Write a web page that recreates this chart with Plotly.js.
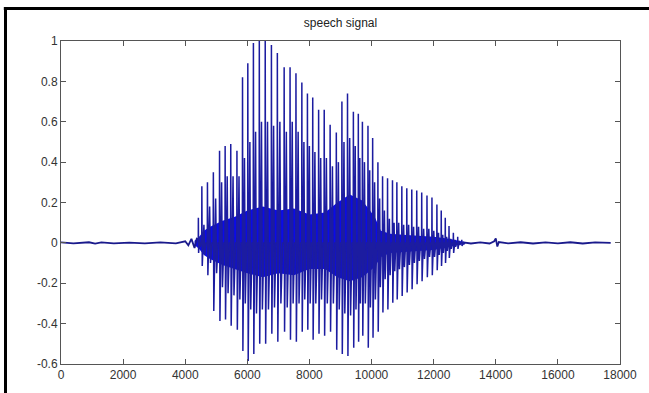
<!DOCTYPE html>
<html>
<head>
<meta charset="utf-8">
<script src="https://cdn.plot.ly/plotly-3.0.1.min.js"></script>
<style>
  html, body { margin: 0; padding: 0; background: #fff; overflow: hidden; }
  #chart { width: 649px; height: 393px; }
</style>
</head>
<body>
<div id="chart"></div>
<script>
// Pitch pulses (sample index) and their peak amplitudes
const pulseX = [4420, 4530, 4710, 4900, 5100, 5280, 5460, 5660, 5840, 6010, 6190, 6380, 6570, 6770,
  6960, 7180, 7370, 7560, 7750, 7930, 8100, 8290, 8470, 8660, 8860, 9040, 9220, 9410, 9570, 9700,
  9880, 10030, 10200, 10350, 10510, 10670, 10810, 10970, 11130, 11290, 11450, 11610, 11780, 11940,
  12100, 12240, 12370, 12490, 12630, 12770, 12900];
const pulseHi = [0.125, 0.28, 0.30, 0.35, 0.456, 0.48, 0.49, 0.456, 0.82, 0.89, 0.99, 1.0, 1.0, 0.98,
  0.94, 0.87, 0.87, 0.84, 0.795, 0.74, 0.72, 0.66, 0.66, 0.585, 0.547, 0.70, 0.74, 0.65, 0.64, 0.60,
  0.58, 0.52, 0.40, 0.33, 0.32, 0.31, 0.30, 0.28, 0.27, 0.265, 0.26, 0.25, 0.235, 0.225,
  0.19, 0.16, 0.125, 0.084, 0.05, 0.03, 0.015];
const pulseLo = [-0.05, -0.114, -0.16, -0.337, -0.387, -0.38, -0.41, -0.43, -0.535, -0.585, -0.55, -0.5, -0.5, -0.45,
  -0.49, -0.44, -0.48, -0.49, -0.44, -0.43, -0.48, -0.45, -0.46, -0.44, -0.53, -0.55, -0.56, -0.52, -0.49, -0.46,
  -0.52, -0.47, -0.44, -0.345, -0.33, -0.296, -0.28, -0.263, -0.246, -0.23, -0.205, -0.19, -0.17, -0.16,
  -0.135, -0.114, -0.1, -0.075, -0.05, -0.03, -0.015];
const pulseHi2 = [0.03, 0.09, 0.18, 0.22, 0.30, 0.33, 0.33, 0.33, 0.42, 0.50, 0.55, 0.60, 0.60, 0.58,
  0.60, 0.55, 0.60, 0.55, 0.50, 0.48, 0.45, 0.42, 0.42, 0.38, 0.40, 0.50, 0.52, 0.48, 0.42, 0.40,
  0.36, 0.30, 0.22, 0.16, 0.12, 0.10, 0.10, 0.09, 0.09, 0.08, 0.08, 0.07, 0.07, 0.06,
  0.05, 0.04, 0.03, 0.02, 0.015, 0.01, 0.005];
const pulseLo2 = [-0.02, -0.06, -0.10, -0.15, -0.22, -0.25, -0.26, -0.28, -0.30, -0.33, -0.35, -0.33, -0.33, -0.32,
  -0.30, -0.32, -0.30, -0.30, -0.28, -0.30, -0.30, -0.28, -0.30, -0.30, -0.33, -0.35, -0.36, -0.33, -0.30, -0.30,
  -0.32, -0.28, -0.22, -0.18, -0.16, -0.14, -0.13, -0.12, -0.11, -0.10, -0.09, -0.08, -0.07, -0.07,
  -0.06, -0.05, -0.04, -0.03, -0.02, -0.01, -0.005];

// Dense high-frequency core of the voiced part
const bandX  = [4300, 4450, 4600, 4800, 5200, 5600, 6000, 6500, 7000, 7500, 8000, 8500, 8900, 9300, 9700, 10100, 10300, 10600, 11000, 11500, 12000, 12500, 12800, 13000];
const bandHi = [0.01, 0.03, 0.06, 0.08, 0.11, 0.13, 0.16, 0.18, 0.16, 0.17, 0.14, 0.15, 0.20, 0.24, 0.21, 0.13, 0.06, 0.045, 0.04, 0.035, 0.03, 0.02, 0.01, 0.004];
const bandLo = [-0.01, -0.03, -0.06, -0.08, -0.11, -0.13, -0.15, -0.17, -0.15, -0.16, -0.13, -0.13, -0.17, -0.19, -0.17, -0.12, -0.07, -0.05, -0.045, -0.04, -0.035, -0.02, -0.01, -0.004];

// Silent parts (low-level noise)
const leadX = [0, 400, 900, 1100, 1300, 1700, 2200, 2700, 3200, 3700, 4000, 4100, 4200, 4300, 4380];
const leadY = [0.002, -0.002, 0.003, -0.004, 0.002, -0.002, 0.001, -0.002, 0.002, -0.002, 0.008, -0.012, 0.02, -0.025, 0.025];
const tailX = [12950, 13200, 13500, 13800, 13950, 14000, 14050, 14100, 14400, 14800, 15200, 15600, 16000, 16400, 16800, 17200, 17700];
const tailY = [0.003, -0.003, 0.002, -0.003, 0.008, 0.022, -0.018, 0.004, -0.002, 0.003, -0.003, 0.002, -0.002, 0.003, -0.003, 0.002, 0.0];

const xTicks = [0, 2000, 4000, 6000, 8000, 10000, 12000, 14000, 16000, 18000];
const yTicks = [-0.6, -0.4, -0.2, 0, 0.2, 0.4, 0.6, 0.8, 1];

// Build the voiced waveform path from the pulse readings
const sx = [], sy = [];
for (let i = 0; i < pulseX.length; i++) {
  const x0 = pulseX[i];
  const T = i < pulseX.length - 1 ? pulseX[i + 1] - x0 : 140;
  sx.push(x0, x0 + 0.03 * T, x0 + 0.1 * T, x0 + 0.4 * T, x0 + 0.55 * T, x0 + 0.8 * T);
  sy.push(0, pulseHi[i], pulseLo[i], pulseHi2[i], pulseLo2[i], 0);
}

const bandPolyX = bandX.concat(bandX.slice().reverse());
const bandPolyY = bandHi.concat(bandLo.slice().reverse());

const lineCol = '#1c1ca0';
const traces = [
  { x: bandPolyX, y: bandPolyY, type: 'scatter', mode: 'lines', fill: 'toself',
    fillcolor: '#0b0be8', line: { width: 0, color: '#0b0be8' }, hoverinfo: 'skip' },
  { x: leadX, y: leadY, type: 'scatter', mode: 'lines', line: { color: '#1a1a8c', width: 1.8 } },
  { x: tailX, y: tailY, type: 'scatter', mode: 'lines', line: { color: '#1a1a8c', width: 1.8 } },
  { x: sx, y: sy, type: 'scatter', mode: 'lines', line: { color: lineCol, width: 1.5 } }
];

const axisCommon = {
  showgrid: false, zeroline: false, showline: true, mirror: 'ticks',
  linecolor: '#555', linewidth: 1, ticks: 'inside', ticklen: 5, tickcolor: '#555',
  tickfont: { family: 'Liberation Sans, Arial, sans-serif', size: 12, color: '#333' }
};

// Outer black frame of the picture (top and left edges), in paper units of the 559x323 plot area
const frameLeft = (5.5 - 61) / 559, frameTop = 1 + (41 - 8.5) / 323;
const layout = {
  width: 649, height: 393,
  margin: { l: 61, r: 29, t: 41, b: 29 },
  paper_bgcolor: '#fff', plot_bgcolor: '#fff',
  showlegend: false,
  title: { text: 'speech signal', x: 0.5, xref: 'paper', y: 1, yref: 'container', yanchor: 'top', pad: { t: 19 },
           font: { family: 'Liberation Sans, Arial, sans-serif', size: 12, color: '#222' } },
  xaxis: Object.assign({}, axisCommon, { range: [0, 18000], tickvals: xTicks, ticktext: xTicks.map(String) }),
  yaxis: Object.assign({}, axisCommon, { range: [-0.6, 1], tickvals: yTicks, ticktext: yTicks.map(v => String(Math.round(v * 10) / 10)) }),
  shapes: [
    { type: 'line', xref: 'paper', yref: 'paper', x0: frameLeft, x1: frameLeft, y0: -0.2, y1: frameTop, line: { color: '#000', width: 3 } },
    { type: 'line', xref: 'paper', yref: 'paper', x0: frameLeft - 0.003, x1: 1.1, y0: frameTop, y1: frameTop, line: { color: '#000', width: 3 } }
  ]
};

Plotly.newPlot('chart', traces, layout, { staticPlot: true, displayModeBar: false });
</script>
</body>
</html>
